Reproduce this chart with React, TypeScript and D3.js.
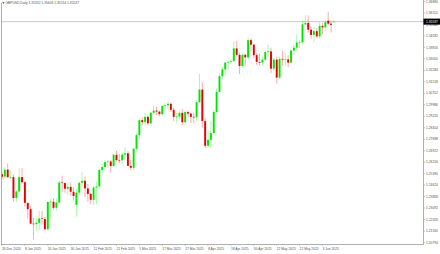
import React from "react";
import * as d3 from "d3";

const title = "GBPUSD,Daily  1.35532 1.35603 1.35514 1.35537";
const lastPrice = 1.35537;

const xLabels = [
  "26 Dec 2024", "8 Jan 2025", "20 Jan 2025", "30 Jan 2025", "11 Feb 2025",
  "21 Feb 2025", "5 Mar 2025", "17 Mar 2025", "27 Mar 2025", "8 Apr 2025",
  "18 Apr 2025", "30 Apr 2025", "12 May 2025", "22 May 2025", "3 Jun 2025",
];
const labelEvery = 8;

const yTicks = [
  1.3688, 1.36114, 1.35348, 1.34582, 1.33816, 1.3305, 1.32284, 1.31518,
  1.30752, 1.29986, 1.2922, 1.28454, 1.27688, 1.26922, 1.26156, 1.2539,
  1.24624, 1.23858, 1.23092, 1.22326, 1.2156, 1.20794,
];

const opens = [
  1.2535, 1.252, 1.2566, 1.2515, 1.2516, 1.2376, 1.242, 1.2516, 1.2482, 1.2344,
  1.2302, 1.2205, 1.2202, 1.2211, 1.224, 1.2236, 1.2168, 1.235, 1.2352, 1.2311,
  1.2346, 1.248, 1.2476, 1.2438, 1.245, 1.2418, 1.233, 1.2412, 1.2478, 1.2491,
  1.244, 1.2404, 1.2364, 1.2446, 1.2454, 1.2564, 1.2583, 1.2616, 1.262, 1.259,
  1.2665, 1.263, 1.2628, 1.2666, 1.2675, 1.2591, 1.2578, 1.2705, 1.2796, 1.2896,
  1.2883, 1.2918, 1.2875, 1.2945, 1.296, 1.2953, 1.2936, 1.299, 1.2995, 1.3005,
  1.2965, 1.2918, 1.292, 1.2945, 1.2882, 1.295, 1.294, 1.2918, 1.2915, 1.3016,
  1.31, 1.289, 1.2725, 1.2765, 1.281, 1.295, 1.3085, 1.319, 1.3235, 1.328,
  1.3285, 1.329, 1.3375, 1.3332, 1.3258, 1.3332, 1.3315, 1.343, 1.34, 1.333,
  1.3285, 1.328, 1.33, 1.335, 1.3355, 1.324, 1.33, 1.318, 1.3305, 1.33,
  1.3302, 1.328, 1.336, 1.338, 1.3415, 1.3416, 1.3535, 1.3545, 1.35, 1.3465,
  1.349, 1.3455, 1.3525, 1.3515, 1.356, 1.354, 1.35532,
];
const highs = [
  1.255, 1.258, 1.2607, 1.256, 1.2535, 1.243, 1.2575, 1.2575, 1.249, 1.2345,
  1.2323, 1.2244, 1.224, 1.229, 1.229, 1.225, 1.2355, 1.237, 1.2375, 1.2375,
  1.249, 1.2525, 1.248, 1.248, 1.248, 1.245, 1.244, 1.2485, 1.255, 1.252,
  1.247, 1.241, 1.2455, 1.2485, 1.257, 1.2607, 1.263, 1.263, 1.263, 1.267,
  1.269, 1.267, 1.268, 1.2716, 1.269, 1.263, 1.2715, 1.281, 1.2905, 1.2915,
  1.2945, 1.293, 1.295, 1.299, 1.2985, 1.296, 1.3, 1.301, 1.3015, 1.301,
  1.298, 1.2945, 1.296, 1.297, 1.296, 1.296, 1.2945, 1.2945, 1.303, 1.3207,
  1.315, 1.291, 1.283, 1.289, 1.2965, 1.311, 1.321, 1.325, 1.329, 1.3295,
  1.33, 1.3425, 1.3425, 1.3345, 1.334, 1.334, 1.3445, 1.344, 1.3405, 1.3345,
  1.334, 1.332, 1.336, 1.34, 1.338, 1.331, 1.332, 1.332, 1.336, 1.3345,
  1.333, 1.337, 1.34, 1.347, 1.343, 1.356, 1.3595, 1.3595, 1.3525, 1.3515,
  1.351, 1.355, 1.3545, 1.3565, 1.3616, 1.356, 1.35603,
];
const lows = [
  1.25, 1.2505, 1.251, 1.25, 1.2353, 1.235, 1.2405, 1.247, 1.232, 1.2239,
  1.22, 1.21, 1.2155, 1.216, 1.22, 1.216, 1.216, 1.224, 1.23, 1.229,
  1.234, 1.2415, 1.241, 1.2395, 1.239, 1.236, 1.2249, 1.2395, 1.246, 1.238,
  1.235, 1.2335, 1.233, 1.2335, 1.244, 1.254, 1.2575, 1.2575, 1.2545, 1.2585,
  1.262, 1.261, 1.2605, 1.264, 1.259, 1.256, 1.256, 1.269, 1.277, 1.286,
  1.286, 1.286, 1.287, 1.293, 1.293, 1.292, 1.293, 1.296, 1.2965, 1.295,
  1.289, 1.288, 1.29, 1.286, 1.286, 1.2915, 1.2875, 1.2875, 1.2885, 1.301,
  1.2845, 1.271, 1.271, 1.271, 1.28, 1.2935, 1.308, 1.317, 1.32, 1.323,
  1.327, 1.3285, 1.332, 1.3205, 1.3245, 1.326, 1.33, 1.3355, 1.331, 1.3265,
  1.326, 1.326, 1.329, 1.332, 1.321, 1.3225, 1.314, 1.317, 1.326, 1.3255,
  1.325, 1.327, 1.333, 1.336, 1.3375, 1.3405, 1.353, 1.348, 1.344, 1.3415,
  1.344, 1.344, 1.347, 1.349, 1.353, 1.348, 1.35514,
];
const closes = [
  1.2518, 1.2565, 1.2515, 1.2516, 1.2376, 1.242, 1.2516, 1.2482, 1.2344, 1.2302,
  1.2205, 1.2202, 1.2211, 1.224, 1.2236, 1.2168, 1.235, 1.2352, 1.2311, 1.2346,
  1.248, 1.2476, 1.2438, 1.245, 1.2418, 1.239, 1.2412, 1.2478, 1.2491, 1.244,
  1.2404, 1.2364, 1.2446, 1.2454, 1.2564, 1.2583, 1.2616, 1.262, 1.259, 1.2665,
  1.263, 1.2628, 1.2666, 1.2675, 1.2591, 1.2578, 1.2705, 1.2796, 1.2896, 1.2883,
  1.2918, 1.2875, 1.2945, 1.296, 1.2953, 1.2936, 1.299, 1.2995, 1.3005, 1.2965,
  1.2918, 1.292, 1.2945, 1.2882, 1.295, 1.294, 1.2918, 1.2915, 1.3016, 1.31,
  1.289, 1.2725, 1.2765, 1.281, 1.295, 1.3085, 1.319, 1.3235, 1.328, 1.3285,
  1.329, 1.3375, 1.3332, 1.3258, 1.3332, 1.3315, 1.343, 1.34, 1.333, 1.3285,
  1.328, 1.33, 1.335, 1.3355, 1.324, 1.33, 1.318, 1.3305, 1.33, 1.3302,
  1.328, 1.336, 1.338, 1.3415, 1.3416, 1.3535, 1.3545, 1.35, 1.3465, 1.349,
  1.3455, 1.3525, 1.3515, 1.355, 1.354, 1.3532, 1.35537,
];

const W = 440;
const H = 254;
const plotRight = 423.5;
const plotBottom = 244.5;
const UP = "#00e600";
const DOWN = "#e60000";
const FONT = "'Liberation Sans', Arial, sans-serif";

export default function App() {
  const n = closes.length;
  const x = d3.scaleLinear().domain([0, 112]).range([2, 322.5]);
  const y = d3.scaleLinear().domain([yTicks[yTicks.length - 1], yTicks[0]]).range([242.5, 1.5]);
  const bodyW = 1.9;
  const idx = d3.range(n);
  const py = y(lastPrice);

  return (
    <svg width={W} height={H} style={{ position: "absolute", left: 0, top: 0, background: "#fff" }}>
      <rect x={0} y={0} width={W} height={H} fill="#fff" />
      {/* price line */}
      <line x1={1} x2={plotRight} y1={py} y2={py} stroke="#bdbdbd" strokeWidth={0.8} />
      {/* candles */}
      {idx.map((i) => {
        const o = opens[i], c = closes[i], h = highs[i], l = lows[i];
        const up = c >= o;
        const col = up ? UP : DOWN;
        const cx = x(i);
        const top = y(Math.max(o, c));
        const bot = y(Math.min(o, c));
        return (
          <g key={i}>
            <line x1={cx} x2={cx} y1={y(h)} y2={y(l)} stroke={col} strokeWidth={0.6} strokeOpacity={0.55} />
            <rect x={cx - bodyW / 2} y={top} width={bodyW} height={Math.max(0.6, bot - top)} fill={col} />
          </g>
        );
      })}
      {/* frame */}
      <line x1={1.5} x2={1.5} y1={3} y2={plotBottom} stroke="#9a9a9a" strokeWidth={0.8} />
      <line x1={1} x2={plotRight} y1={plotBottom} y2={plotBottom} stroke="#9a9a9a" strokeWidth={0.8} />
      <line x1={plotRight} x2={plotRight} y1={0} y2={plotBottom} stroke="#9a9a9a" strokeWidth={0.8} />
      {/* y ticks */}
      {yTicks.map((t, k) => (
        <g key={k}>
          <line x1={plotRight} x2={plotRight + 1.5} y1={y(t)} y2={y(t)} stroke="#9a9a9a" strokeWidth={0.6} />
          <text x={426} y={y(t) + 1.1} fontSize={3.3} fontFamily={FONT} fill="#555">
            {t.toFixed(5)}
          </text>
        </g>
      ))}
      {/* price box */}
      <rect x={plotRight} y={py - 3} width={W - plotRight} height={6} fill="#000" />
      <text x={426} y={py + 1.1} fontSize={3.3} fontFamily={FONT} fill="#fff">
        {lastPrice.toFixed(5)}
      </text>
      {/* x labels */}
      {xLabels.map((s, k) => (
        <g key={k}>
          <line x1={x(k * labelEvery)} x2={x(k * labelEvery)} y1={plotBottom} y2={plotBottom + 1.2} stroke="#9a9a9a" strokeWidth={0.6} />
          <text x={x(k * labelEvery)} y={250} fontSize={3.3} fontFamily={FONT} fill="#555">
            {s}
          </text>
        </g>
      ))}
      {/* title */}
      <path d="M2.2,2.2 L4.6,2.2 L3.4,3.8 Z" fill="#333" />
      <text x={5.5} y={3.9} fontSize={3.3} fontFamily={FONT} fill="#555">
        {title}
      </text>
    </svg>
  );
}
